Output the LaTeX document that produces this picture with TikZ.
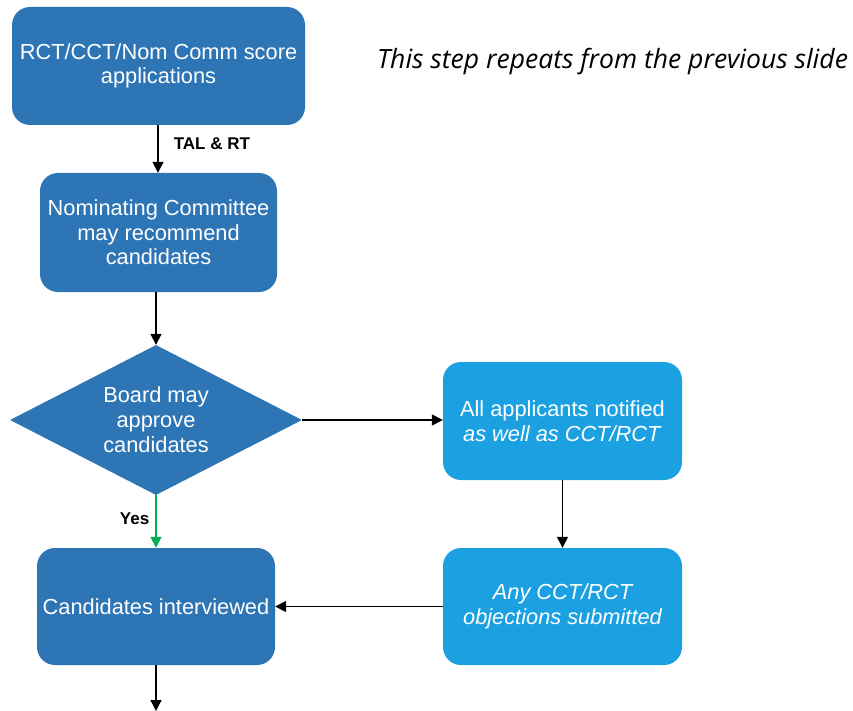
\documentclass[tikz,border=0pt]{standalone}
\usepackage{fontspec}
\setmainfont{Liberation Sans}
\newfontfamily\notefont{Open Sans}
\usetikzlibrary{shapes.geometric,arrows.meta}
\definecolor{darkbox}{RGB}{46,117,182}
\definecolor{lightbox}{RGB}{27,161,226}
\definecolor{yesgreen}{RGB}{0,176,80}
\tikzset{
  boxbase/.style={rectangle, rounded corners=18pt, draw=none, text=white, align=center, inner sep=0pt, font=\fontsize{21.8}{24.5}\selectfont},
  darkstep/.style={boxbase, fill=darkbox},
  lightstep/.style={boxbase, fill=lightbox},
  decision/.style={diamond, fill=darkbox, text=white, align=center, inner sep=0pt, shape aspect=1.95, minimum width=292pt, minimum height=150pt, font=\fontsize{21.8}{25}\selectfont},
  conn/.style={line width=1.5pt, -{Triangle[length=11pt,width=11pt]}},
  lbl/.style={font=\fontsize{17}{20}\selectfont\bfseries, inner sep=0pt}
}
\begin{document}
\begin{tikzpicture}[x=1pt,y=-1pt]
\useasboundingbox (0,0) rectangle (853,711);
\node[darkstep, minimum width=293pt, minimum height=118pt] (b1) at (158.5,66) {RCT/CCT/Nom Comm score\\applications};
\node[darkstep, minimum width=237pt, minimum height=119pt] (b2) at (158.5,232.5) {Nominating Committee\\may recommend\\candidates};
\node[decision] (d) at (156,420) {Board may\\approve\\candidates};
\node[lightstep, minimum width=239pt, minimum height=118pt] (b3) at (562.5,421) {All applicants notified\\\textit{as well as CCT/RCT}};
\node[lightstep, minimum width=239pt, minimum height=117pt] (b4) at (562.5,606.5) {\itshape Any CCT/RCT\\\itshape objections submitted};
\node[darkstep, minimum width=238pt, minimum height=117pt] (b5) at (156,606.5) {Candidates interviewed};
\node[inner sep=0pt] (note) at (612.5,62) {\resizebox{471pt}{!}{\notefont\itshape This step repeats from the previous slide}};
\coordinate (end) at (156,711);

\draw[conn] (b1.south -| 158,0) -- (b2.north -| 158,0) node[lbl, pos=0.38, right=15pt] (tal) {TAL \& RT};
\draw[conn] (b2.south -| 156,0) -- (d.north);
\draw[conn] (d.east) -- (b3.west |- d.east);
\draw[conn] (b3.south) -- (b4.north);
\draw[conn] (b4.west) -- (b5.east);
\draw[conn, yesgreen] (d.south) -- (b5.north) node[lbl, text=black, pos=0.45, left=6pt] (yes) {Yes};
\draw[conn] (b5.south) -- (end);
\end{tikzpicture}
\end{document}
